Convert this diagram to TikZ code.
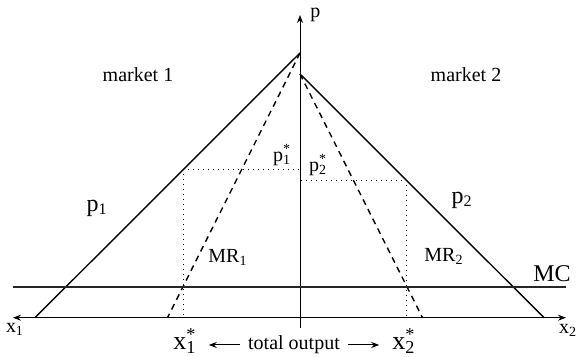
\documentclass[tikz,border=0pt]{standalone}
\usepackage{fontspec}
\setmainfont{Liberation Serif}
\usetikzlibrary{arrows.meta,positioning}
\newcommand{\starsub}[2]{#1\rlap{\textsuperscript{*}}\textsubscript{#2}}

\begin{document}
\begin{tikzpicture}[x=0.5pt, y=-0.5pt,
  axis/.style={-{Stealth[length=4pt,width=3pt]}, line width=0.5pt},
  demand/.style={line width=0.7pt},
  mrline/.style={line width=0.7pt, dash pattern=on 3pt off 2.4pt},
  mcline/.style={line width=1pt, draw=black!85},
  guide/.style={line width=0.5pt, dotted},
  arrow/.style={-{Stealth[length=4pt,width=3pt]}, line width=0.5pt},
  lbl/.style={inner sep=0pt, font=\fontsize{10}{12}\selectfont},
  biglbl/.style={inner sep=0pt, font=\fontsize{12}{14}\selectfont}
]
\useasboundingbox (0,0) rectangle (579,357);

% axes
\coordinate (O) at (300,317.7);
\coordinate (pTop) at (300,15);
\coordinate (pBot) at (300,328);
\coordinate (xL) at (13,317.7);
\coordinate (xR) at (566,317.7);
\draw[axis] (pBot) -- (pTop);
\draw[axis] (O) -- (xL);
\draw[axis] (O) -- (xR);

% demand and marginal revenue
\coordinate (A1) at (300,53);
\coordinate (A2) at (300,74);
\coordinate (D1) at (35,317.7);
\coordinate (D2) at (544,317.7);
\coordinate (M1) at (167.5,317.7);
\coordinate (M2) at (422.5,317.7);
\draw[demand] (A1) -- (D1);
\draw[demand] (A2) -- (D2);
\draw[mrline] (A1) -- (M1);
\draw[mrline] (A2) -- (M2);

% marginal cost
\coordinate (mcL) at (13,286.7);
\coordinate (mcR) at (566,286.7);
\draw[mcline] (mcL) -- (mcR);

% optimum
\coordinate (E1) at (183.3,169.5);
\coordinate (E2) at (406.7,180.3);
\coordinate (P1) at (300,169.5);
\coordinate (P2) at (300,180.3);
\coordinate (Q1) at (183.3,317.7);
\coordinate (Q2) at (406.7,317.7);
\draw[guide] (E1) -- (P1);
\draw[guide] (E2) -- (P2);
\draw[guide] (E1) -- (Q1);
\draw[guide] (E2) -- (Q2);

% labels
\node[lbl, right=5pt of pTop] (plbl) {p};
\node[lbl] (mkt1) at (138,75) {market 1};
\node[lbl] (mkt2) at (466,75) {market 2};
\node[biglbl] (p1) at (97,208) {p\textsubscript{1}};
\node[biglbl] (p2) at (462,200) {p\textsubscript{2}};
\node[lbl] (mr1) at (228,257) {MR\textsubscript{1}};
\node[lbl] (mr2) at (444,256) {MR\textsubscript{2}};
\node[biglbl] (mc) at (552,274) {MC};
\node[lbl] (ps1) at (282,155) {\starsub{p}{1}};
\node[lbl] (ps2) at (318,165) {\starsub{p}{2}};
\node[lbl] (x1) at (15,329) {x\textsubscript{1}};
\node[lbl] (x2) at (568,330) {x\textsubscript{2}};
\node[biglbl, font=\fontsize{13}{15}\selectfont] (xs1) at (185,341) {\starsub{x}{1}};
\node[biglbl, font=\fontsize{13}{15}\selectfont] (xs2) at (404,341) {\starsub{x}{2}};
\node[lbl] (tot) at (294,345) {total output};
\draw[arrow] ([xshift=-4pt]tot.west) -- ++(-31,0) coordinate (tl);
\draw[arrow] ([xshift=4pt]tot.east) -- ++(31,0) coordinate (tr);
\end{tikzpicture}
\end{document}
